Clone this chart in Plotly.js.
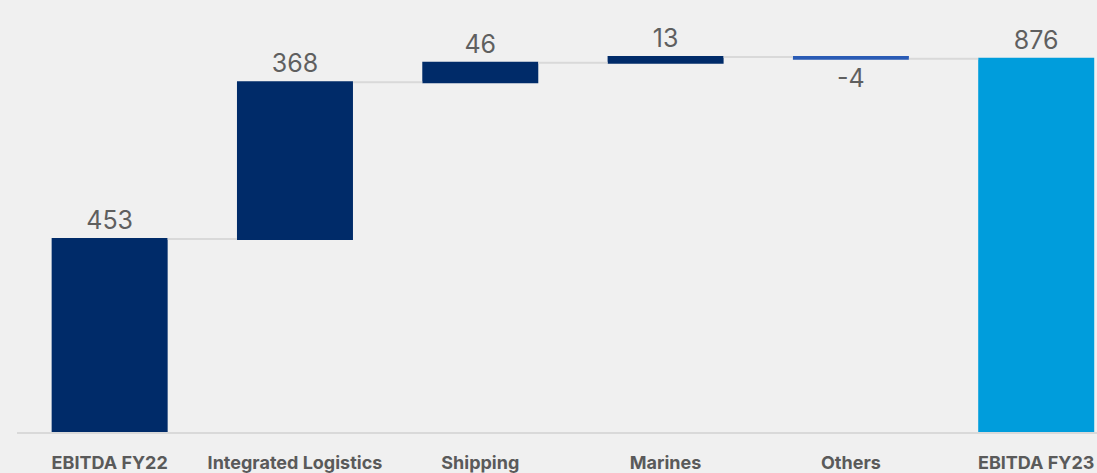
<!DOCTYPE html>
<html><head><meta charset="utf-8">
<script src="https://cdn.plot.ly/plotly-3.0.1.min.js"></script>
<style>html,body{margin:0;padding:0;background:#f0f0f0;}#chart{width:1097px;height:473px;}</style>
</head><body><div id="chart"></div>
<script>
const categories = ["EBITDA FY22", "Integrated Logistics", "Shipping", "Marines", "Others", "EBITDA FY23"];
const values = [453, 368, 46, 13, -4, 876];
const measures = ["relative", "relative", "relative", "relative", "relative", "total"];
const labels = ["453", "368", "46", "13", "-4", "876"];

const trace = {
  type: "waterfall",
  x: categories,
  y: values,
  measure: measures,
  text: labels,
  textposition: "outside",
  textfont: {family: "Inter, 'Liberation Sans', sans-serif", size: 25, color: "#5f5f5f"},
  cliponaxis: false,
  increasing: {marker: {color: "#002b69", line: {width: 0}}},
  decreasing: {marker: {color: "#2a5bb5", line: {width: 0}}},
  totals: {marker: {color: "#009ddc", line: {width: 0}}},
  connector: {mode: "between", line: {color: "#d9d9d9", width: 2}},
  hoverinfo: "none"
};

const layout = {
  width: 1097, height: 473,
  paper_bgcolor: "#f0f0f0", plot_bgcolor: "#f0f0f0",
  margin: {l: 17, r: 0, t: 0, b: 41},
  waterfallgap: 0.374,
  showlegend: false,
  xaxis: {
    range: [-0.5, 5.328],
    showgrid: false, zeroline: false,
    showline: true, linecolor: "#d9d9d9", linewidth: 2,
    ticks: "", ticklabelstandoff: 13,
    tickfont: {family: "Inter, 'Liberation Sans', sans-serif", size: 18, color: "#5a5a5a", weight: "bold"}
  },
  yaxis: {
    range: [0, 1014],
    showgrid: false, zeroline: false, showline: false, showticklabels: false
  }
};

Plotly.newPlot("chart", [trace], layout, {displayModeBar: false, staticPlot: true});
</script></body></html>
